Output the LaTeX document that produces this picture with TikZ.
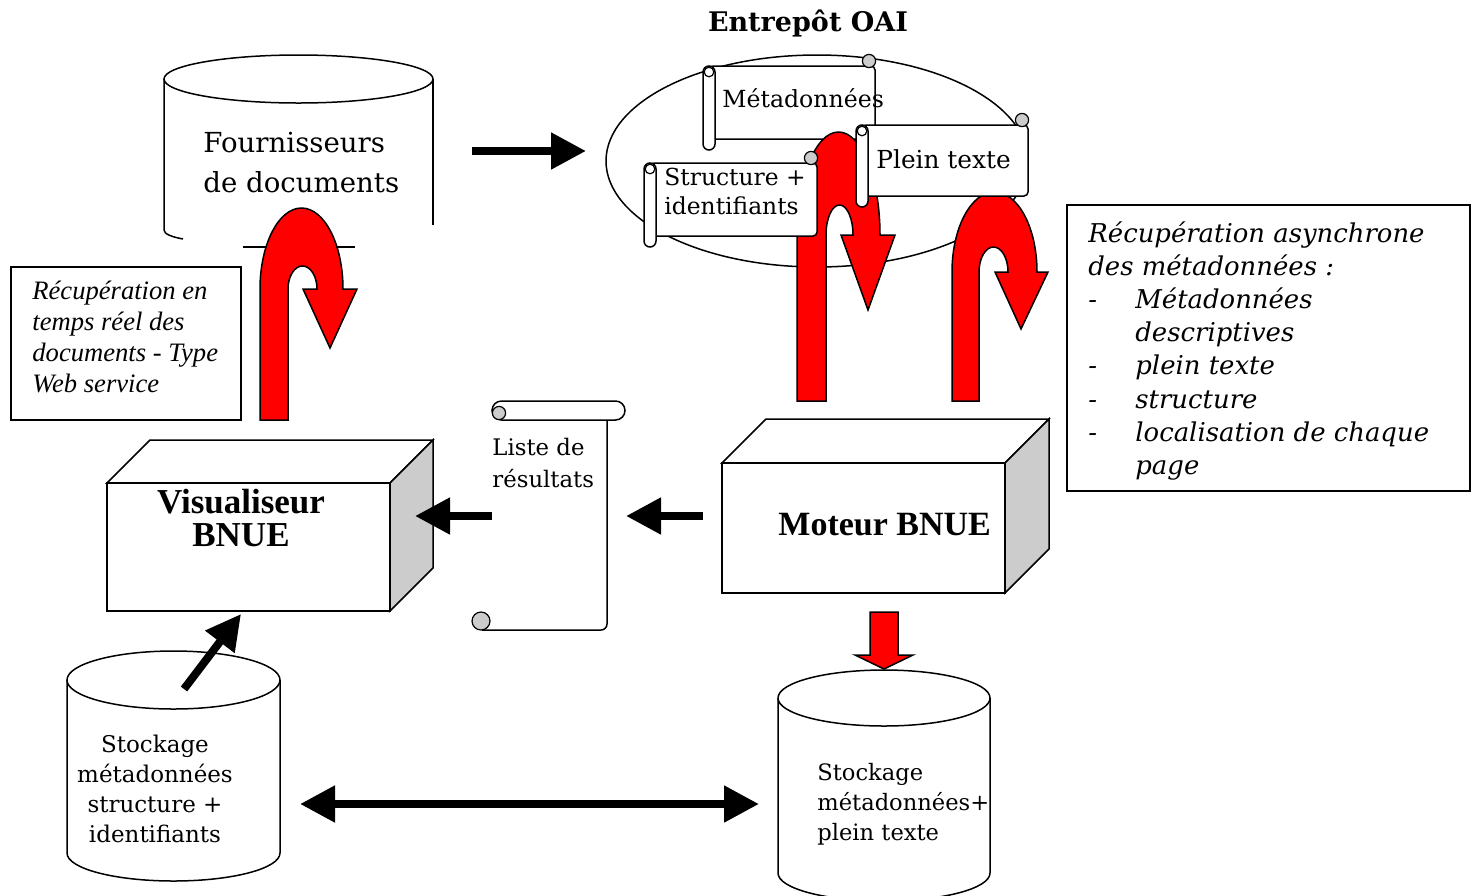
\documentclass[tikz,border=0pt]{standalone}
\usepackage{fontspec}
\setmainfont{DejaVu Serif}
\newfontfamily\tmsfont{Liberation Serif}
\usetikzlibrary{arrows.meta}
\tikzset{
  shp/.style={draw=black, line width=0.75pt, fill=white},
  thinln/.style={draw=black, line width=0.75pt},
  redarr/.style={draw=black, line width=0.75pt, fill=red, line join=miter},
  blk/.style={line width=4pt, -{Triangle[length=17.5pt,width=17.5pt]}},
  blkboth/.style={line width=4pt, {Triangle[length=17.5pt,width=17.5pt]}-{Triangle[length=17.5pt,width=17.5pt]}},
  curl/.style={draw=black, line width=0.6pt, fill=black!20},
  txt/.style={inner sep=0pt, anchor=base west},
  ctxt/.style={inner sep=0pt, anchor=base},
}
\newcommand{\myhscroll}[4]{%
  \draw[shp, rounded corners=2pt] ({#1+6},{#2+12}) rectangle (#3,{#4-11});
  \draw[curl] ({#3-6},{#2+7}) circle (3.3pt);
  \draw[shp, rounded corners=3pt] (#1,{#2+12}) rectangle ({#1+12},#4);
  \draw[line width=0.6pt] ({#1+6},{#2+18}) circle (2.4pt);
}
\begin{document}
\begin{tikzpicture}[x=0.5pt,y=-0.5pt]
\useasboundingbox (0,0) rectangle (1475,895);
\clip (0,0) rectangle (1475,895);

% Fournisseurs cylinder
\draw[shp] (298.5,79) ellipse [x radius=67.25pt, y radius=12pt];
\draw[thinln] (164,79) -- (164,230) .. controls (164,234) and (172,237) .. (183,239);
\draw[thinln] (433,79) -- (433,225);
\draw[thinln] (243,247) -- (355,247);
\node[txt] (fourn) at (203,152) {\fontsize{13.8pt}{20pt}\selectfont\begin{tabular}[t]{@{}l@{}}Fournisseurs\\de documents\end{tabular}};

% Entrepot OAI
\node[ctxt] (oaititle) at (808,31) {\fontsize{13.5pt}{16pt}\selectfont\bfseries Entrepôt OAI};
\draw[shp] (817,161) ellipse [x radius=105.5pt, y radius=53pt];

\myhscroll{703}{54}{875}{150}
\node[txt] (meta) at (722,107) {\fontsize{11.8pt}{14pt}\selectfont Métadonnées};

% red U-turn arrows B and C
\draw[redarr] (797,401) -- (797,235) .. controls (797,178.1) and (815.6,132) .. (838.5,132)
  .. controls (861.4,132) and (880,178.1) .. (880,235) -- (895,235) -- (868,310) -- (841,235) -- (853,235)
  .. controls (853,218.4) and (847,205) .. (839.5,205) .. controls (832,205) and (826,218.4) .. (826,235)
  -- (826,401) -- cycle;
\draw[redarr] (952,401) -- (952,272) .. controls (952,227.8) and (971,192) .. (994.5,192)
  .. controls (1018,192) and (1037,227.8) .. (1037,272) -- (1048,272) -- (1021,329) -- (995,272) -- (1008,272)
  .. controls (1008,258.2) and (1001.5,247) .. (993.5,247) .. controls (985.5,247) and (979,258.2) .. (979,272)
  -- (979,401) -- cycle;

\myhscroll{644}{151}{817}{247}
\node[txt] (struct) at (664,185) {\fontsize{11.7pt}{14.5pt}\selectfont\begin{tabular}[t]{@{}l@{}}Structure +\\identifiants\end{tabular}};
\myhscroll{856}{113}{1028}{207}
\node[txt] (plein) at (876,168) {\fontsize{12.4pt}{15pt}\selectfont Plein texte};

% red U-turn arrow A
\draw[redarr] (260,420) -- (260,289) .. controls (260,244.3) and (278.6,208) .. (301.5,208)
  .. controls (324.4,208) and (343,244.3) .. (343,289) -- (357,289) -- (330,348) -- (303,289) -- (317,289)
  .. controls (317,276.3) and (310.5,266) .. (302.5,266) .. controls (294.5,266) and (288,276.3) .. (288,289)
  -- (288,420) -- cycle;

% left italic box
\draw[thinln] (11,267) rectangle (241,420);
\node[txt] (rtr) at (32,299) {\tmsfont\itshape\fontsize{13.3pt}{15.5pt}\selectfont\begin{tabular}[t]{@{}l@{}}Récupération en\\temps réel des\\documents - Type\\Web service\end{tabular}};

% right italic box
\draw[thinln] (1067,205) rectangle (1470,491);
\node[txt] (asyn) at (1088,242) {\itshape\fontsize{12.95pt}{16.6pt}\selectfont\begin{tabular}[t]{@{}l@{}}Récupération asynchrone\\des métadonnées :\\\makebox[23.5pt][l]{-}Métadonnées\\\hspace*{23.5pt}descriptives\\\makebox[23.5pt][l]{-}plein texte\\\makebox[23.5pt][l]{-}structure\\\makebox[23.5pt][l]{-}localisation de chaque\\\hspace*{23.5pt}page\end{tabular}};

% Visualiseur box
\draw[shp] (107,483) -- (150,440) -- (433,440) -- (390,483) -- cycle;
\draw[shp, fill=black!20] (390,483) -- (433,440) -- (433,568) -- (390,611) -- cycle;
\draw[shp] (107,483) rectangle (390,611);
\node[ctxt] (vistxt) at (241,513) {\tmsfont\bfseries\fontsize{17.5pt}{16.5pt}\selectfont\begin{tabular}[t]{@{}c@{}}Visualiseur\\BNUE\end{tabular}};

% Moteur box
\draw[shp] (722,463) -- (766,419) -- (1049,419) -- (1005,463) -- cycle;
\draw[shp, fill=black!20] (1005,463) -- (1049,419) -- (1049,549) -- (1005,593) -- cycle;
\draw[shp] (722,463) rectangle (1005,593);
\node[txt] (mottxt) at (778,535) {\tmsfont\bfseries\fontsize{17pt}{20pt}\selectfont Moteur BNUE};

% Liste de resultats scroll
\draw[shp, rounded corners=3pt] (492,412) -- (607,412) -- (607,630) -- (482,630);
\draw[shp, rounded corners=4.75pt] (492,401) rectangle (625,420);
\draw[curl] (499,413) circle (3.3pt);
\draw[curl] (481,621) circle (4.5pt);
\node[txt] (liste) at (492,455) {\fontsize{11.4pt}{16pt}\selectfont\begin{tabular}[t]{@{}l@{}}Liste de\\résultats\end{tabular}};

% left storage cylinder
\draw[shp] (67,680) -- (67,853) .. controls (67,868.5) and (114.7,881) .. (173.5,881)
  .. controls (232.3,881) and (280,868.5) .. (280,853) -- (280,680);
\draw[shp] (173.5,680) ellipse [x radius=53.25pt, y radius=14.5pt];
\node[ctxt] (stk1) at (155,752) {\fontsize{11.5pt}{15pt}\selectfont\begin{tabular}[t]{@{}c@{}}Stockage\\métadonnées\\structure +\\identifiants\end{tabular}};

% right storage cylinder
\draw[shp] (778,698) -- (778,873) .. controls (778,888.5) and (825.5,901) .. (884,901)
  .. controls (942.5,901) and (990,888.5) .. (990,873) -- (990,698);
\draw[shp] (884,698) ellipse [x radius=53pt, y radius=14pt];
\node[txt] (stk2) at (817,780) {\fontsize{11.3pt}{15pt}\selectfont\begin{tabular}[t]{@{}l@{}}Stockage\\métadonnées+\\plein texte\end{tabular}};

% small red arrow
\draw[redarr] (870,612) -- (898,612) -- (898,655) -- (913,655) -- (884,669) -- (855,655) -- (870,655) -- cycle;

% black arrows
\coordinate (fo) at (472,151); \coordinate (oai) at (586,151);
\coordinate (listeL) at (492,516); \coordinate (visR) at (415,516);
\coordinate (motL) at (703,516); \coordinate (listeR) at (626,516);
\coordinate (stockT) at (184,689); \coordinate (visB) at (241,614);
\coordinate (dL) at (300,804); \coordinate (dR) at (759,804);
\draw[blk] (fo) -- (oai);
\draw[blk] (listeL) -- (visR);
\draw[blk] (motL) -- (listeR);
\draw[blk] (stockT) -- (visB);
\draw[blkboth] (dL) -- (dR);
\end{tikzpicture}
\end{document}
